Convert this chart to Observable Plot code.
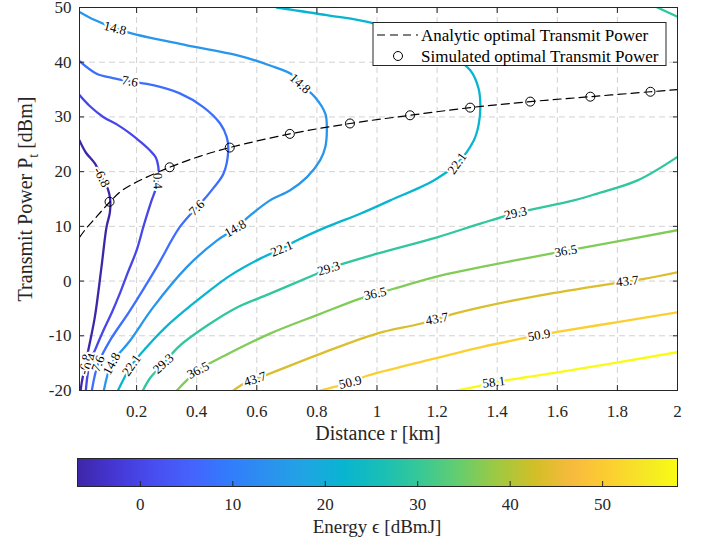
<!DOCTYPE html>
<html><head><meta charset="utf-8">
<script src="https://cdn.jsdelivr.net/npm/d3@7"></script>
<script src="https://cdn.jsdelivr.net/npm/@observablehq/plot@0.6"></script>
<style>
html,body{margin:0;padding:0;background:#fff;}
#chart svg{display:block;}
#chart svg text{font-family:"Liberation Serif","Times New Roman",Times,serif;}
</style></head><body><div id="chart"></div>
<script>
// ---------- data ----------
const levels = [-6.8, 0.4, 7.6, 14.8, 22.1, 29.3, 36.5, 43.7, 50.9, 58.1];
const xTicks = [0.2, 0.4, 0.6, 0.8, 1, 1.2, 1.4, 1.6, 1.8, 2];
const yTicks = [-20, -10, 0, 10, 20, 30, 40, 50];
const cbTicks = [0, 10, 20, 30, 40, 50];

// contour lines: [distance r (km), transmit power P (dBm)]
const contour_m6_8 = [[0.01,25.7],[0.031,23.5],[0.061,21.5],[0.084,19.0],[0.104,16.9],[0.112,15.0],[0.111,12.5],[0.1,9.9],[0.083,2.5],[0.061,-6.6],[0.039,-12.7],[0.017,-18.7],[0.014,-20]];
const contour_0_4 = [[0.01,34.0],[0.044,32.0],[0.089,30.0],[0.138,28.5],[0.178,27.0],[0.214,25.4],[0.244,23.9],[0.264,22.6],[0.272,21.0],[0.273,19.3],[0.264,16.9],[0.25,14.75],[0.224,10.2],[0.2,5.6],[0.171,1.6],[0.144,-2.3],[0.118,-5.7],[0.094,-8.5],[0.064,-12.3],[0.044,-15.0],[0.031,-20]];
const contour_7_6 = [[0.01,40.2],[0.067,37.9],[0.121,37.1],[0.178,36.5],[0.255,35.8],[0.344,34.3],[0.422,31.8],[0.478,28.8],[0.5,26.3],[0.505,23.9],[0.489,19.6],[0.454,16.9],[0.422,14.75],[0.344,9.9],[0.267,2.55],[0.178,-5.4],[0.111,-10.9],[0.072,-15.1],[0.051,-20]];
const contour_14_8 = [[0.01,49.2],[0.061,47.7],[0.128,46.2],[0.189,45.2],[0.367,43.1],[0.533,41.3],[0.644,39.4],[0.722,37.6],[0.744,36.1],[0.794,33.6],[0.828,30.6],[0.833,28.2],[0.828,24.5],[0.811,22.1],[0.767,19.0],[0.711,16.6],[0.644,14.75],[0.578,12.0],[0.528,9.6],[0.467,7.4],[0.367,2.55],[0.255,-4.8],[0.178,-10.9],[0.117,-15.1],[0.091,-20]];
const contour_22_1 = [[0.666,50],[0.833,48.6],[0.989,47.1],[1.144,44.0],[1.244,41.3],[1.311,38.5],[1.338,35.2],[1.344,31.8],[1.338,28.5],[1.322,25.7],[1.267,21.5],[1.189,18.4],[1.044,14.75],[0.944,12.3],[0.833,9.9],[0.733,7.4],[0.683,5.9],[0.611,4.1],[0.511,1.0],[0.444,-1.7],[0.311,-7.7],[0.233,-12.1],[0.183,-15.4],[0.138,-20]];
const contour_29_3_low = [[0.221,-20],[0.244,-17.8],[0.289,-15.1],[0.344,-11.8],[0.444,-7.8],[0.528,-5.0],[0.644,-2.3],[0.8,1.35],[0.839,2.3],[1.0,5.0],[1.2,8.0],[1.344,10.5],[1.461,12.4],[1.655,14.75],[1.733,16.0],[1.867,18.4],[2.0,22.7]];
const contour_29_3_top = [[1.933,50],[2.0,48.3]];
const contour_36_5 = [[0.334,-20],[0.405,-16.3],[0.494,-13.6],[0.644,-9.6],[0.811,-6.0],[0.944,-3.2],[1.055,-1.4],[1.211,1.0],[1.344,2.55],[1.578,5.0],[1.678,6.0],[2.0,9.3]];
const contour_43_7 = [[0.522,-20],[0.568,-18.4],[0.639,-17.0],[0.811,-13.3],[1.0,-9.6],[1.144,-7.8],[1.255,-6.0],[1.344,-4.8],[1.544,-2.6],[1.778,-0.5],[1.889,0.4],[2.0,1.6]];
const contour_50_9 = [[0.811,-20],[0.911,-18.5],[0.967,-17.3],[1.122,-15.1],[1.344,-12.1],[1.539,-9.9],[1.6,-9.3],[1.811,-7.4],[2.0,-5.7]];
const contour_58_1 = [[1.267,-20],[1.344,-19.1],[1.389,-18.5],[1.611,-16.6],[2.0,-13.0]];

// inline contour labels: [level, r, P, angle]
const contourLabels = [
  [-6.8,0.084,19.0,62],[-6.8,0.029,-15.2,-78],
  [0.4,0.270,18.3,88],[0.4,0.046,-14.7,-72],
  [7.6,0.178,36.5,10],[7.6,0.40,13.4,-45],[7.6,0.072,-15.1,-68],
  [14.8,0.128,46.2,14],[14.8,0.744,36.1,42],[14.8,0.528,9.6,-30],[14.8,0.117,-15.1,-62],
  [22.1,1.267,21.5,-55],[22.1,0.683,5.9,-22],[22.1,0.183,-15.4,-55],
  [29.3,1.461,12.4,-12],[29.3,0.839,2.3,-17],[29.3,0.289,-15.1,-42],
  [36.5,1.628,5.5,-9],[36.5,0.994,-2.3,-12],[36.5,0.405,-16.3,-28],
  [43.7,1.833,0.0,-6],[43.7,1.2,-6.9,-10],[43.7,0.594,-17.9,-18],
  [50.9,1.539,-9.9,-9],[50.9,0.911,-18.5,-13],
  [58.1,1.389,-18.5,-7]
];

// optimal transmit power
const analyticR = [0.01,0.035,0.061,0.085,0.11,0.15,0.2,0.31,0.41,0.51,0.71,0.91,1.11,1.31,1.51,1.71,1.91,2.0];
const analyticP = [8.0,9.8,11.4,12.9,14.4,16.5,18.1,20.8,22.8,24.4,26.9,28.8,30.3,31.7,32.8,33.7,34.6,35.0];
const simR = [0.11,0.31,0.51,0.71,0.91,1.11,1.31,1.51,1.71,1.91];
const simP = [14.5,20.8,24.4,26.9,28.8,30.3,31.7,32.8,33.7,34.6];

// parula colormap stops (rows of the 64-entry table)
const parulaRows = [1,5,9,13,17,21,25,29,33,37,41,45,49,53,57,61,64];
const parulaHex = ["#3e26a8","#4537d5","#484df0","#4563fd","#327cfc","#2b91ef","#20a5e3","#08b5d0","#19bfb6","#37c897","#64cd6f","#9dc943","#d1bf27","#f8ba3d","#fccf30","#f5e924","#f9fb14"];

// ---------- build tables ----------
const cMin = levels[0], cMax = levels[levels.length - 1];
const cDomain = parulaRows.map(r => cMin + (r - 1) / 63 * (cMax - cMin));
const colorScale = {type: "linear", domain: cDomain, range: parulaHex};

const contours = [
  [-6.8, contour_m6_8], [0.4, contour_0_4], [7.6, contour_7_6], [14.8, contour_14_8],
  [22.1, contour_22_1], [29.3, contour_29_3_low], [29.3, contour_29_3_top],
  [36.5, contour_36_5], [43.7, contour_43_7], [50.9, contour_50_9], [58.1, contour_58_1]
];
const lineRows = contours.flatMap(([level, pts], id) => pts.map(([r, P]) => ({id, level, r, P})));
const labelRows = contourLabels.map(([level, r, P, angle]) => ({level, r, P, angle, text: String(level)}));
const analyticRows = analyticR.map((r, i) => ({r, P: analyticP[i]}));
const simRows = simR.map((r, i) => ({r, P: simP[i]}));

const FONT = "Liberation Serif, Times New Roman, Times, serif";
const INK = "#262626";
const GRID = {stroke: "#d2d2d2", strokeOpacity: 1, strokeDasharray: "6,4"};
const SVG_STYLE = `font-family: ${FONT}; font-size: 17px; color: ${INK}; background: white;`;

const main = Plot.plot({
  width: 702, height: 448,
  marginTop: 7, marginRight: 25, marginBottom: 58, marginLeft: 79,
  style: SVG_STYLE,
  x: {domain: [0.01, 2]},
  y: {domain: [-20, 50]},
  color: colorScale,
  marks: [
    Plot.gridX(xTicks, GRID),
    Plot.gridY(yTicks, GRID),
    Plot.line(lineRows, {x: "r", y: "P", z: "id", stroke: "level", strokeWidth: 2.3, curve: "catmull-rom", clip: true}),
    Plot.text(labelRows, {x: "r", y: "P", text: "text", rotate: "angle", fill: "black", stroke: "white", strokeWidth: 4, fontSize: 13, fontFamily: FONT}),
    Plot.line(analyticRows, {x: "r", y: "P", stroke: "black", strokeWidth: 1.2, strokeDasharray: "8,5", curve: "catmull-rom"}),
    Plot.dot(simRows, {x: "r", y: "P", r: 4.5, stroke: "black", fill: "none", strokeWidth: 1}),
    Plot.frame({stroke: INK}),
    Plot.axisX(xTicks, {anchor: "bottom", tickSize: -5, fill: "none", label: null, stroke: INK}),
    Plot.axisX(xTicks, {anchor: "top", tickSize: -5, fill: "none", label: null, stroke: INK}),
    Plot.axisY(yTicks, {anchor: "left", tickSize: -5, fill: "none", label: null, stroke: INK}),
    Plot.axisY(yTicks, {anchor: "right", tickSize: -5, fill: "none", label: null, stroke: INK}),
    Plot.axisX(xTicks, {anchor: "bottom", tickSize: 0, tickPadding: 14, label: null, tickFormat: d => String(d), fill: INK, fontFamily: FONT, fontSize: 17, fontVariant: "normal"}),
    Plot.axisY(yTicks, {anchor: "left", tickSize: 0, tickPadding: 8, label: null, tickFormat: d => String(d), fill: INK, fontFamily: FONT, fontSize: 17, fontVariant: "normal"})
  ]
});

// axis titles and legend
const ms = d3.select(main);
ms.append("text").attr("x", 378).attr("y", 440).attr("text-anchor", "middle")
  .attr("font-family", FONT).attr("font-size", 20).attr("fill", INK).text("Distance r [km]");
const yl = ms.append("text").attr("transform", "translate(32,199) rotate(-90)")
  .attr("text-anchor", "middle").attr("font-family", FONT).attr("font-size", 20).attr("fill", INK);
yl.append("tspan").text("Transmit Power P");
yl.append("tspan").attr("dy", 6).attr("font-size", 14).text("t");
yl.append("tspan").attr("dy", -6).text(" [dBm]");

const lg = ms.append("g").attr("font-family", FONT).attr("font-size", 17).attr("fill", "black").attr("text-anchor", "start");
lg.append("rect").attr("x", 373).attr("y", 22.5).attr("width", 293).attr("height", 43)
  .attr("fill", "white").attr("stroke", INK);
lg.append("line").attr("x1", 377).attr("x2", 418).attr("y1", 35).attr("y2", 35)
  .attr("stroke", "black").attr("stroke-width", 1.2).attr("stroke-dasharray", "8,5");
lg.append("text").attr("x", 421).attr("y", 35).attr("dy", "0.35em").attr("text-anchor", "start").text("Analytic optimal Transmit Power");
lg.append("circle").attr("cx", 398).attr("cy", 56).attr("r", 4.5).attr("fill", "none").attr("stroke", "black");
lg.append("text").attr("x", 421).attr("y", 56).attr("dy", "0.35em").attr("text-anchor", "start").text("Simulated optimal Transmit Power");

// colorbar
const cbStep = (cMax - cMin) / 600;
const cbSteps = d3.range(600).map(i => cMin + i * cbStep);
const cb = Plot.plot({
  width: 702, height: 95,
  marginTop: 10, marginRight: 25, marginBottom: 57, marginLeft: 77,
  style: SVG_STYLE,
  x: {domain: [cMin, cMax]},
  y: {domain: [0, 1], axis: null},
  color: colorScale,
  marks: [
    Plot.rect(cbSteps, {x1: d => d, x2: d => Math.min(d + cbStep * 1.5, cMax), y1: 0, y2: 1, fill: d => d + cbStep / 2, shapeRendering: "crispEdges"}),
    Plot.frame({stroke: INK}),
    Plot.axisX(cbTicks, {anchor: "bottom", tickSize: -5, fill: "none", label: null, stroke: INK}),
    Plot.axisX(cbTicks, {anchor: "bottom", tickSize: 0, tickPadding: 11, label: null, tickFormat: d => String(d), fill: INK, fontFamily: FONT, fontSize: 17, fontVariant: "normal"})
  ]
});
d3.select(cb).append("text").attr("x", 377).attr("y", 85).attr("text-anchor", "middle")
  .attr("font-family", FONT).attr("font-size", 19).attr("fill", INK).text("Energy \u03f5 [dBmJ]");

const root = document.getElementById("chart");
root.appendChild(main);
root.appendChild(cb);
</script></body></html>
